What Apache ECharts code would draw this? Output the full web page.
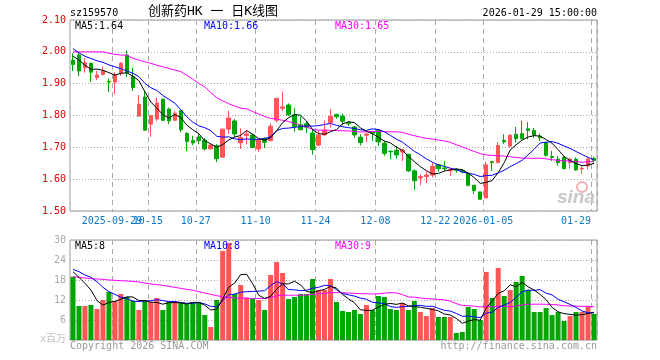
<!DOCTYPE html>
<html><head><meta charset="utf-8">
<script src="https://cdn.jsdelivr.net/npm/echarts@6/dist/echarts.min.js"></script>
<style>html,body{margin:0;padding:0;background:#fff}#c{width:660px;height:360px}</style>
</head><body><div id="c"></div>
<script>
const dates = [
'2025-09-18','2025-09-19','2025-09-22','2025-09-23','2025-09-24','2025-09-25','2025-09-26','2025-09-29','2025-09-30',
'2025-10-09','2025-10-10','2025-10-13','2025-10-14','2025-10-15','2025-10-16','2025-10-17','2025-10-20','2025-10-21','2025-10-22','2025-10-23','2025-10-24','2025-10-27','2025-10-28','2025-10-29','2025-10-30','2025-10-31',
'2025-11-03','2025-11-04','2025-11-05','2025-11-06','2025-11-07','2025-11-10','2025-11-11','2025-11-12','2025-11-13','2025-11-14','2025-11-17','2025-11-18','2025-11-19','2025-11-20','2025-11-21','2025-11-24','2025-11-25','2025-11-26','2025-11-27','2025-11-28',
'2025-12-01','2025-12-02','2025-12-03','2025-12-04','2025-12-05','2025-12-08','2025-12-09','2025-12-10','2025-12-11','2025-12-12','2025-12-15','2025-12-16','2025-12-17','2025-12-18','2025-12-19','2025-12-22','2025-12-23','2025-12-24','2025-12-25','2025-12-26','2025-12-29','2025-12-30','2025-12-31',
'2026-01-05','2026-01-06','2026-01-07','2026-01-08','2026-01-09','2026-01-12','2026-01-13','2026-01-14','2026-01-15','2026-01-16','2026-01-19','2026-01-20','2026-01-21','2026-01-22','2026-01-23','2026-01-26','2026-01-27','2026-01-28','2026-01-29'];

const openP = [1.973,1.990,1.950,1.964,1.919,1.929,1.907,1.905,1.934,1.990,
1.922,1.798,1.858,1.773,1.789,1.851,1.820,1.785,1.815,1.744,
1.721,1.733,1.723,1.695,1.705,1.669,1.757,1.783,1.714,1.737,
1.739,1.695,1.728,1.721,1.785,1.823,1.833,1.802,1.771,1.774,
1.745,1.707,1.739,1.778,1.803,1.798,1.778,1.764,1.732,1.738,
1.747,1.754,1.713,1.688,1.691,1.685,1.678,1.626,1.604,1.608,
1.613,1.645,1.635,1.627,1.630,1.628,1.619,1.581,1.560,1.541,
1.655,1.652,1.722,1.704,1.741,1.743,1.758,1.753,1.735,1.715,
1.671,1.663,1.668,1.652,1.663,1.632,1.642,1.665];
const closeP = [1.960,1.940,1.966,1.936,1.927,1.940,1.905,1.927,1.964,1.934,
1.888,1.835,1.754,1.800,1.839,1.785,1.783,1.807,1.755,1.718,
1.714,1.721,1.695,1.707,1.664,1.757,1.792,1.742,1.731,1.742,
1.700,1.724,1.716,1.766,1.854,1.827,1.802,1.766,1.755,1.763,
1.693,1.739,1.754,1.797,1.796,1.782,1.774,1.739,1.715,1.742,
1.744,1.717,1.681,1.686,1.676,1.692,1.626,1.595,1.608,1.613,
1.640,1.633,1.633,1.629,1.628,1.623,1.581,1.564,1.537,1.645,
1.652,1.706,1.717,1.738,1.727,1.727,1.753,1.739,1.730,1.675,
1.668,1.652,1.633,1.663,1.629,1.634,1.663,1.659];
const lowP = [1.940,1.924,1.934,1.905,1.911,1.926,1.874,1.867,1.924,1.921,
1.877,1.796,1.752,1.733,1.783,1.783,1.773,1.783,1.747,1.688,
1.707,1.710,1.690,1.693,1.653,1.669,1.742,1.731,1.695,1.710,
1.698,1.686,1.698,1.719,1.778,1.814,1.799,1.749,1.755,1.745,
1.677,1.703,1.737,1.762,1.790,1.769,1.767,1.730,1.706,1.717,
1.720,1.704,1.673,1.663,1.665,1.657,1.623,1.567,1.581,1.588,
1.605,1.623,1.627,1.610,1.620,1.618,1.577,1.553,1.535,1.541,
1.626,1.650,1.711,1.699,1.715,1.725,1.725,1.730,1.720,1.671,
1.657,1.642,1.631,1.634,1.626,1.616,1.631,1.652];
const highP = [1.995,1.999,1.981,1.966,1.940,1.953,1.916,1.936,1.968,2.005,
1.950,1.864,1.877,1.800,1.856,1.853,1.825,1.815,1.818,1.747,
1.736,1.742,1.729,1.710,1.710,1.760,1.815,1.789,1.760,1.752,
1.742,1.726,1.731,1.775,1.854,1.875,1.838,1.823,1.797,1.782,
1.756,1.753,1.784,1.820,1.806,1.806,1.782,1.767,1.741,1.746,
1.751,1.758,1.720,1.689,1.704,1.696,1.680,1.631,1.615,1.623,
1.652,1.647,1.656,1.631,1.633,1.632,1.623,1.581,1.560,1.655,
1.657,1.717,1.741,1.741,1.764,1.784,1.779,1.761,1.743,1.717,
1.689,1.673,1.673,1.668,1.668,1.642,1.668,1.671];
const volume = [19.0,10.2,10.2,10.5,9.3,12.0,14.4,11.7,13.8,12.9,
11.7,9.0,11.7,11.4,12.6,9.0,11.4,11.7,11.1,10.8,
11.4,11.4,7.5,3.9,12.0,26.7,29.1,13.8,16.5,12.6,
12.3,12.0,9.0,19.5,23.4,20.1,12.3,12.9,13.8,13.8,
18.3,15.0,15.0,18.3,11.4,8.7,8.4,9.0,7.8,10.5,
9.0,13.2,12.9,9.3,9.0,11.1,9.0,11.7,8.4,7.2,
9.6,6.9,6.9,6.9,2.1,2.4,9.9,9.3,6.0,20.4,
12.6,21.6,13.2,15.0,17.4,19.2,15.0,8.4,8.4,9.6,
7.5,8.4,5.7,7.2,8.4,8.4,9.9,7.8];

// moving-average values visible at the start of the window (earlier data is off-chart)
const ma5Lead = [1.986,1.974,1.958,1.945];
const ma10Lead = [2.010,1.997,1.986,1.979,1.972,1.967,1.959,1.953,1.947];
const ma30Lead = [2.000,2.000,2.000,2.000,2.000,2.000,1.996,1.992,1.990,1.989,1.980,1.974,1.969,1.964,1.958,1.953,1.948,1.943,1.938,1.926,1.914,1.901,1.890,1.872,1.856,1.846,1.837,1.830,1.823];
const vma5Lead = [20.5,18.8,17.0,15.0];
const vma10Lead = [21.2,20.5,19.5,18.8,17.5,15.8,14.5,13.7,12.8];
const vma30Lead = [19.0,18.8,18.6,18.4,18.3,18.2,18.0,17.9,17.8,17.7,17.6,17.4,17.1,16.8,16.6,16.4,16.1,15.8,15.5,15.2,14.9,14.5,14.1,13.7,13.3,13.0,12.8,12.6,12.5];

const tickDates = ['2025-09-29','2025-10-15','2025-10-27','2025-11-10','2025-11-24','2025-12-08','2025-12-22','2026-01-05','2026-01-29'];
const tickLabels = ['2025-09-29','10-15','10-27','11-10','11-24','12-08','12-22','2026-01-05','01-29'];
const priceLegend = ['MA5:1.64','MA10:1.66','MA30:1.65'];
const volLegend = ['MA5:8','MA10:8','MA30:9'];

function movingAvg(vals, n, lead) {
  return vals.map(function (v, i) {
    if (i < n - 1) return lead[i];
    let s = 0;
    for (let k = i - n + 1; k <= i; k++) s += vals[k];
    return +(s / n).toFixed(4);
  });
}

const UP = '#ff5555', DOWN = '#00a600';
const MONO = '"DejaVu Sans Mono", "Liberation Mono", monospace';
const candleData = dates.map((d, i) => [openP[i], closeP[i], lowP[i], highP[i]]);
const volData = volume.map((v, i) => ({ value: v, itemStyle: { color: closeP[i] >= openP[i] ? UP : DOWN } }));
const isTick = (idx) => tickDates.indexOf(dates[idx]) >= 0;

const chart = echarts.init(document.getElementById('c'), null, { renderer: 'canvas' });

// labelSet: which tick positions (indexes into tickDates) this axis labels
function xAxisCfg(gi, labelSet, showSplit) {
  const want = (idx) => { const k = tickDates.indexOf(dates[idx]); return k >= 0 && labelSet.indexOf(k) >= 0; };
  return {
    type: 'category', gridIndex: gi, data: dates, boundaryGap: true, position: 'bottom',
    axisLine: { show: false }, axisTick: { show: false },
    axisLabel: {
      show: labelSet.length > 0, interval: function (idx) { return want(idx); },
      hideOverlap: false,
      margin: 5, color: '#0a78c8', fontFamily: MONO, fontSize: 10,
      padding: [0, 6, 0, 0],
      formatter: function (val) {
        const k = tickDates.indexOf(val);
        if (k < 0 || labelSet.indexOf(k) < 0) return '';
        if (k === tickDates.length - 1) return '{e|' + tickLabels[k] + '}';
        return tickLabels[k];
      },
      rich: { e: { padding: [0, 30, 0, 0], color: '#0a78c8', fontFamily: MONO, fontSize: 10 } }
    },
    splitLine: { show: showSplit, interval: function (idx) { return isTick(idx); },
      lineStyle: { color: '#a8a8a8', type: [5, 4], width: 1 } }
  };
}

const option = {
  animation: false,
  backgroundColor: '#fff',
  grid: [
    { left: 70, top: 20, width: 527, height: 191, show: true, borderColor: '#999', borderWidth: 1, containLabel: false, outerBoundsMode: 'none' },
    { left: 70, top: 240, width: 527, height: 100, show: true, borderColor: '#999', borderWidth: 1, containLabel: false, outerBoundsMode: 'none' }
  ],
  xAxis: [
    xAxisCfg(0, [1, 2, 3, 4, 5, 6, 7, 8], true),
    xAxisCfg(1, [], true),
    xAxisCfg(0, [0], false)
  ],
  yAxis: [
    { type: 'value', gridIndex: 0, min: 1.5, max: 2.1, interval: 0.1, scale: false,
      axisLine: { show: false }, axisTick: { show: false },
      axisLabel: { color: '#e00000', fontFamily: MONO, fontSize: 10, margin: 4,
        formatter: v => v.toFixed(2) },
      splitLine: { show: true, lineStyle: { color: '#aaa', type: [1, 2] } } },
    { type: 'value', gridIndex: 1, min: 0, max: 30, interval: 6,
      axisLine: { show: false }, axisTick: { show: false },
      axisLabel: { color: '#aaa', fontFamily: MONO, fontSize: 10, margin: 4,
        formatter: v => v === 0 ? '' : String(v) },
      splitLine: { show: true, lineStyle: { color: '#aaa', type: [1, 2] } } }
  ],
  series: [
    { type: 'candlestick', xAxisIndex: 0, yAxisIndex: 0, data: candleData, barWidth: 4,
      itemStyle: { color: UP, color0: DOWN, borderColor: UP, borderColor0: DOWN, borderWidth: 1 }, silent: true, z: 2 },
    { type: 'line', xAxisIndex: 0, yAxisIndex: 0, data: movingAvg(closeP, 5, ma5Lead), symbol: 'none', lineStyle: { color: '#000', width: 1 }, silent: true, z: 5 },
    { type: 'line', xAxisIndex: 0, yAxisIndex: 0, data: movingAvg(closeP, 10, ma10Lead), symbol: 'none', lineStyle: { color: '#0000ff', width: 1 }, silent: true, z: 4 },
    { type: 'line', xAxisIndex: 0, yAxisIndex: 0, data: movingAvg(closeP, 30, ma30Lead), symbol: 'none', lineStyle: { color: '#ff00ff', width: 1 }, silent: true, z: 3 },
    { type: 'bar', xAxisIndex: 1, yAxisIndex: 1, data: volData, barWidth: 5, silent: true, z: 2 },
    { type: 'line', xAxisIndex: 1, yAxisIndex: 1, data: movingAvg(volume, 5, vma5Lead), symbol: 'none', lineStyle: { color: '#000', width: 1 }, silent: true, z: 5 },
    { type: 'line', xAxisIndex: 1, yAxisIndex: 1, data: movingAvg(volume, 10, vma10Lead), symbol: 'none', lineStyle: { color: '#0000ff', width: 1 }, silent: true, z: 4 },
    { type: 'line', xAxisIndex: 1, yAxisIndex: 1, data: movingAvg(volume, 30, vma30Lead), symbol: 'none', lineStyle: { color: '#ff00ff', width: 1 }, silent: true, z: 3 }
  ],
  graphic: [
    { type: 'text', x: 70, y: 13, style: { text: 'sz159570', fill: '#000', font: '10px ' + MONO, align: 'left', verticalAlign: 'middle' } },
    { type: 'text', x: 213, y: 12, style: { text: '创新药HK 一 日K线图', fill: '#000', font: '13px "DejaVu Sans Mono", "Noto Sans CJK SC"', align: 'center', verticalAlign: 'middle' } },
    { type: 'text', x: 597, y: 13, style: { text: '2026-01-29 15:00:00', fill: '#000', font: '10px ' + MONO, align: 'right', verticalAlign: 'middle' } },
    { type: 'text', x: 75, y: 26, z: 10, style: { text: priceLegend[0], fill: '#000', font: '10px ' + MONO, verticalAlign: 'middle' } },
    { type: 'text', x: 204, y: 26, z: 10, style: { text: priceLegend[1], fill: '#0000ff', font: '10px ' + MONO, verticalAlign: 'middle' } },
    { type: 'text', x: 335, y: 26, z: 10, style: { text: priceLegend[2], fill: '#ff00ff', font: '10px ' + MONO, verticalAlign: 'middle' } },
    { type: 'text', x: 75, y: 246, z: 10, style: { text: volLegend[0], fill: '#000', font: '10px ' + MONO, verticalAlign: 'middle' } },
    { type: 'text', x: 204, y: 246, z: 10, style: { text: volLegend[1], fill: '#0000ff', font: '10px ' + MONO, verticalAlign: 'middle' } },
    { type: 'text', x: 335, y: 246, z: 10, style: { text: volLegend[2], fill: '#ff00ff', font: '10px ' + MONO, verticalAlign: 'middle' } },
    { type: 'text', x: 66, y: 339, style: { text: 'x百万', fill: '#c0c0c0', font: '10px "DejaVu Sans Mono", "Noto Sans CJK SC"', align: 'right', verticalAlign: 'middle' } },
    { type: 'text', x: 70, y: 346, style: { text: 'Copyright 2026 SINA.COM', fill: '#999', font: '10px ' + MONO, align: 'left', verticalAlign: 'middle' } },
    { type: 'text', x: 597, y: 346, style: { text: 'http://finance.sina.com.cn', fill: '#999', font: '10px ' + MONO, align: 'right', verticalAlign: 'middle' } },
    { type: 'circle', shape: { cx: 582, cy: 187, r: 5 }, style: { fill: 'none', stroke: '#f2b0b0', lineWidth: 2 }, z: 1 },
    { type: 'text', x: 595, y: 198, z: 1, style: { text: 'sina', fill: '#c8c8c8', font: 'italic bold 19px "Liberation Sans", Arial', align: 'right', verticalAlign: 'middle' } }
  ]
};
chart.setOption(option);
</script></body></html>
